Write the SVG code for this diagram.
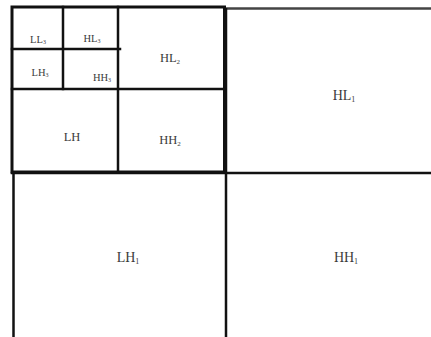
<svg xmlns="http://www.w3.org/2000/svg" width="431" height="337" viewBox="0 0 431 337">
<style>
.ln{stroke:#111;fill:none;stroke-linecap:square}
.t{font-family:"Liberation Serif","Times New Roman",serif;fill:#3a3a3a;text-anchor:middle}
.s3{font-size:10.5px}
.s2{font-size:12.5px}
.s1{font-size:14px}
</style>
<rect width="431" height="337" fill="#fff"/>
<g id="connectors">
<line class="ln" x1="226" y1="8.5" x2="431" y2="8.5" stroke-width="2.5" style="stroke:#444"/>
<line class="ln" x1="12" y1="173" x2="431" y2="173" stroke-width="2.5"/>
<line class="ln" x1="13.5" y1="173" x2="13.5" y2="337" stroke-width="2.5" style="stroke-linecap:butt"/>
<line class="ln" x1="226" y1="8" x2="226" y2="337" stroke-width="2.5" style="stroke-linecap:butt"/>
<rect class="ln" x="12" y="7" width="212.5" height="165" stroke-width="3"/>
<line class="ln" x1="12" y1="49" x2="120" y2="49" stroke-width="2.5"/>
<line class="ln" x1="63" y1="7" x2="63" y2="89" stroke-width="2.5"/>
<line class="ln" x1="118" y1="7" x2="118" y2="172" stroke-width="2.5"/>
<line class="ln" x1="12" y1="89" x2="224" y2="89" stroke-width="2.5"/>
</g>
<g id="LL3"><text class="t s3" x="38" y="43">LL<tspan font-size="6" dy="1">3</tspan></text></g>
<g id="HL3"><text class="t s3" x="92" y="42">HL<tspan font-size="6" dy="1">3</tspan></text></g>
<g id="LH3"><text class="t s3" x="40" y="76">LH<tspan font-size="6" dy="1">3</tspan></text></g>
<g id="HH3"><text class="t s3" x="102" y="81">HH<tspan font-size="6" dy="1">3</tspan></text></g>
<g id="HL2"><text class="t s2" x="170" y="62">HL<tspan font-size="7" dy="1.5">2</tspan></text></g>
<g id="LH"><text class="t s2" x="72" y="141">LH</text></g>
<g id="HH2"><text class="t s2" x="170" y="144">HH<tspan font-size="7" dy="1.5">2</tspan></text></g>
<g id="HL1"><text class="t s1" x="344" y="100">HL<tspan font-size="8" dy="2">1</tspan></text></g>
<g id="LH1"><text class="t s1" x="128" y="262">LH<tspan font-size="8" dy="2">1</tspan></text></g>
<g id="HH1"><text class="t s1" x="346" y="262">HH<tspan font-size="8" dy="2">1</tspan></text></g>
</svg>
